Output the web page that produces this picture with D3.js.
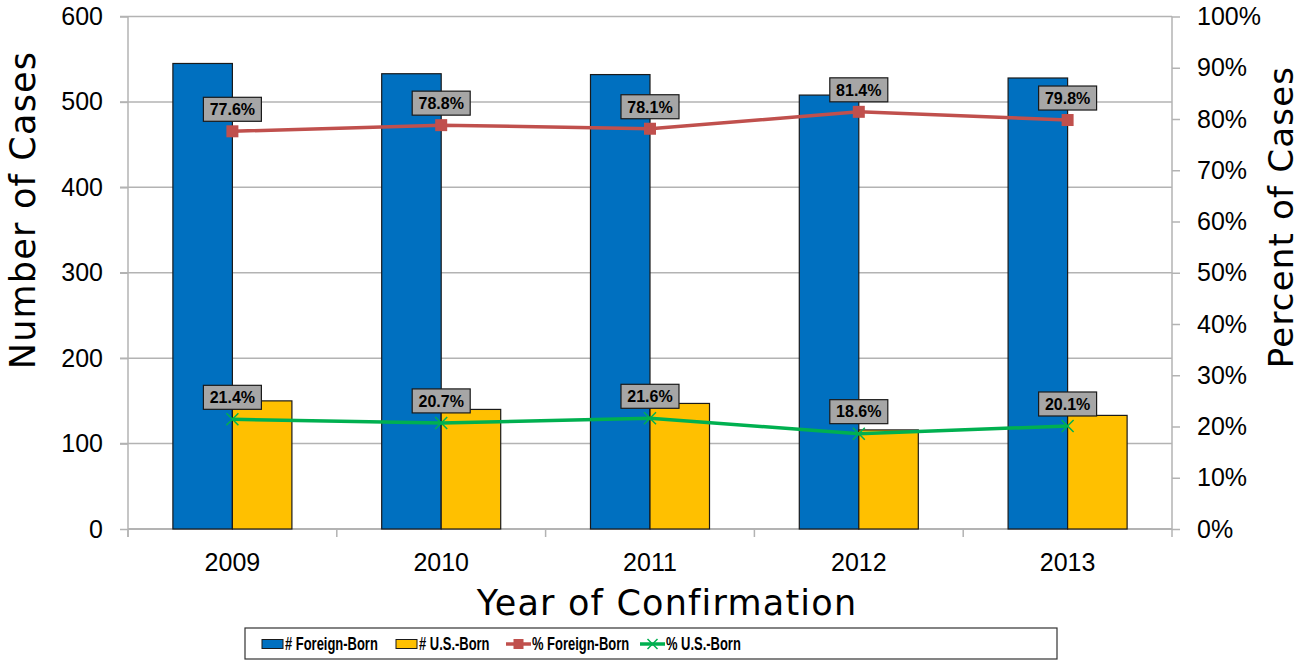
<!DOCTYPE html>
<html>
<head>
<meta charset="utf-8">
<script src="https://cdn.jsdelivr.net/npm/d3@7"></script>
<style>
  body { margin: 0; background: #fff; }
  svg { display: block; }
</style>
</head>
<body>
<script>
var years = ["2009", "2010", "2011", "2012", "2013"];
var foreignBorn = [545, 533, 532, 508, 528];
var usBorn = [150, 140, 147, 116, 133];
var pctForeign = [77.6, 78.8, 78.1, 81.4, 79.8];
var pctUS = [21.4, 20.7, 21.6, 18.6, 20.1];
var countTicks = [0, 100, 200, 300, 400, 500, 600];
var pctTicks = [0, 10, 20, 30, 40, 50, 60, 70, 80, 90, 100];

var W = 1302, H = 660;
var margin = {top: 16.5, right: 130, bottom: 131, left: 128};
var width = W - margin.left - margin.right,
    height = H - margin.top - margin.bottom;

var svg = d3.select("body").append("svg")
    .attr("width", W)
    .attr("height", H)
    .style("font-family", "'Liberation Sans', Arial, sans-serif");

var g = svg.append("g")
    .attr("transform", "translate(" + margin.left + "," + margin.top + ")");

var x = d3.scaleBand().domain(years).range([0, width]).paddingInner(0.43).paddingOuter(0.215);
var y = d3.scaleLinear().domain([0, 600]).range([height, 0]);
var y2 = d3.scaleLinear().domain([0, 100]).range([height, 0]);

var gridColor = "#b3b3b3";
var tickFont = 25;

// gridlines
g.append("g")
  .selectAll("line")
  .data(countTicks.slice(1))
  .enter().append("line")
    .attr("x1", -8).attr("x2", width)
    .attr("y1", function(d) { return y(d); })
    .attr("y2", function(d) { return y(d); })
    .attr("stroke", gridColor).attr("stroke-width", 1.5);

// left axis
var yAxis = g.append("g")
    .call(d3.axisLeft(y).tickValues(countTicks).tickSize(8).tickPadding(17));
yAxis.select(".domain").attr("stroke", gridColor).attr("stroke-width", 1.5).attr("d", "M0," + (height + 8) + "V0");
yAxis.selectAll(".tick line").attr("stroke", gridColor).attr("stroke-width", 1.5);
yAxis.selectAll("text").attr("font-size", tickFont).attr("fill", "#000").attr("font-family", "'Liberation Sans', Arial, sans-serif");

// right axis
var y2Axis = g.append("g")
    .attr("transform", "translate(" + width + ",0)")
    .call(d3.axisRight(y2).tickValues(pctTicks).tickSize(8).tickPadding(17).tickFormat(function(d) { return d + "%"; }));
y2Axis.select(".domain").attr("stroke", gridColor).attr("stroke-width", 1.5).attr("d", "M0,0V" + height);
y2Axis.selectAll(".tick line").attr("stroke", gridColor).attr("stroke-width", 1.5);
y2Axis.selectAll("text").attr("font-size", tickFont).attr("fill", "#000").attr("font-family", "'Liberation Sans', Arial, sans-serif");

// bottom axis
var step = width / years.length;
var xAxisG = g.append("g").attr("transform", "translate(0," + height + ")");
xAxisG.append("line").attr("x1", 0).attr("x2", width).attr("stroke", gridColor).attr("stroke-width", 2);
xAxisG.selectAll(".sep")
  .data(d3.range(years.length + 1))
  .enter().append("line")
    .attr("x1", function(i) { return i * step; })
    .attr("x2", function(i) { return i * step; })
    .attr("y1", 0).attr("y2", 8)
    .attr("stroke", gridColor).attr("stroke-width", 1.5);
xAxisG.selectAll(".lbl")
  .data(years)
  .enter().append("text")
    .attr("x", function(d) { return x(d) + x.bandwidth() / 2; })
    .attr("y", 42)
    .attr("text-anchor", "middle")
    .attr("font-size", tickFont)
    .text(function(d) { return d; });

// bars
var bw = x.bandwidth() / 2;
g.selectAll(".barF")
  .data(years)
  .enter().append("rect")
    .attr("x", function(d) { return x(d); })
    .attr("y", function(d, i) { return y(foreignBorn[i]); })
    .attr("width", bw)
    .attr("height", function(d, i) { return height - y(foreignBorn[i]); })
    .attr("fill", "#0070c0").attr("stroke", "#1a1a1a").attr("stroke-width", 1.2);
g.selectAll(".barU")
  .data(years)
  .enter().append("rect")
    .attr("x", function(d) { return x(d) + bw; })
    .attr("y", function(d, i) { return y(usBorn[i]); })
    .attr("width", bw)
    .attr("height", function(d, i) { return height - y(usBorn[i]); })
    .attr("fill", "#ffc000").attr("stroke", "#1a1a1a").attr("stroke-width", 1.2);

function cx(d) { return x(d) + x.bandwidth() / 2; }

var line = d3.line();

// % foreign-born line
g.append("path")
    .attr("d", line(years.map(function(d, i) { return [cx(d), y2(pctForeign[i])]; })))
    .attr("fill", "none").attr("stroke", "#c0504d").attr("stroke-width", 3.5);
g.selectAll(".mkF")
  .data(years)
  .enter().append("rect")
    .attr("x", function(d) { return cx(d) - 6; })
    .attr("y", function(d, i) { return y2(pctForeign[i]) - 6; })
    .attr("width", 12).attr("height", 12)
    .attr("fill", "#c0504d");

// % US-born line
g.append("path")
    .attr("d", line(years.map(function(d, i) { return [cx(d), y2(pctUS[i])]; })))
    .attr("fill", "none").attr("stroke", "#00b050").attr("stroke-width", 3.5);
g.selectAll(".mkU")
  .data(years)
  .enter().append("path")
    .attr("transform", function(d, i) { return "translate(" + cx(d) + "," + y2(pctUS[i]) + ")"; })
    .attr("d", "M-6,-6L6,6M-6,6L6,-6")
    .attr("stroke", "#00b050").attr("stroke-width", 1.5);

// data labels
function labels(vals, cls) {
  var lg = g.selectAll("." + cls)
    .data(years)
    .enter().append("g")
      .attr("transform", function(d, i) { return "translate(" + cx(d) + "," + (y2(vals[i]) - 22) + ")"; });
  lg.append("rect")
    .attr("x", -29).attr("y", -12).attr("width", 58).attr("height", 24)
    .attr("fill", "#a6a6a6").attr("stroke", "#1a1a1a").attr("stroke-width", 1.2);
  lg.append("text")
    .attr("text-anchor", "middle").attr("dy", "0.36em")
    .attr("font-size", 16).attr("font-weight", "bold")
    .text(function(d, i) { return vals[i].toFixed(1) + "%"; });
}
labels(pctForeign, "lblF");
labels(pctUS, "lblU");

// axis titles
var titleFont = "'DejaVu Sans', Verdana, sans-serif";
svg.append("text")
    .attr("transform", "translate(35,210) rotate(-90)")
    .attr("text-anchor", "middle")
    .attr("font-family", titleFont).attr("font-size", 35).attr("letter-spacing", 1.2)
    .text("Number of Cases");
svg.append("text")
    .attr("transform", "translate(1293,217) rotate(-90)")
    .attr("text-anchor", "middle")
    .attr("font-family", titleFont).attr("font-size", 34).attr("letter-spacing", 1.2)
    .text("Percent of Cases");
svg.append("text")
    .attr("x", 667)
    .attr("y", 615)
    .attr("text-anchor", "middle")
    .attr("font-family", titleFont).attr("font-size", 35).attr("letter-spacing", 1.2)
    .text("Year of Confirmation");

// legend
var legend = svg.append("g");
legend.append("rect")
    .attr("x", 245).attr("y", 628).attr("width", 812).attr("height", 31)
    .attr("fill", "#fff").attr("stroke", "#333").attr("stroke-width", 1.2);
var legItems = [
  {name: "# Foreign-Born", type: "bar", color: "#0070c0", x: 262},
  {name: "# U.S.-Born", type: "bar", color: "#ffc000", x: 396},
  {name: "% Foreign-Born", type: "sq", color: "#c0504d", x: 506},
  {name: "% U.S.-Born", type: "x", color: "#00b050", x: 640}
];
var li = legend.selectAll(".li").data(legItems).enter().append("g")
    .attr("transform", function(d) { return "translate(" + d.x + ",644)"; });
li.filter(function(d) { return d.type === "bar"; }).append("rect")
    .attr("x", 0).attr("y", -4.5).attr("width", 21).attr("height", 9)
    .attr("fill", function(d) { return d.color; }).attr("stroke", "#1a1a1a").attr("stroke-width", 1);
li.filter(function(d) { return d.type !== "bar"; }).append("line")
    .attr("x1", 0).attr("x2", 25).attr("stroke", function(d) { return d.color; }).attr("stroke-width", 3.5);
li.filter(function(d) { return d.type === "sq"; }).append("rect")
    .attr("x", 7.5).attr("y", -5).attr("width", 10).attr("height", 10)
    .attr("fill", function(d) { return d.color; });
li.filter(function(d) { return d.type === "x"; }).append("path")
    .attr("d", "M7.5,-5L17.5,5M7.5,5L17.5,-5")
    .attr("stroke", function(d) { return d.color; }).attr("stroke-width", 1.5);
li.append("text")
    .attr("transform", function(d) { return "translate(" + (d.type === "bar" ? 23 : 26) + ",0) scale(0.72,1)"; })
    .attr("dy", "0.36em")
    .attr("font-weight", "bold").attr("font-size", 18)
    .text(function(d) { return d.name; });
</script>
</body>
</html>
